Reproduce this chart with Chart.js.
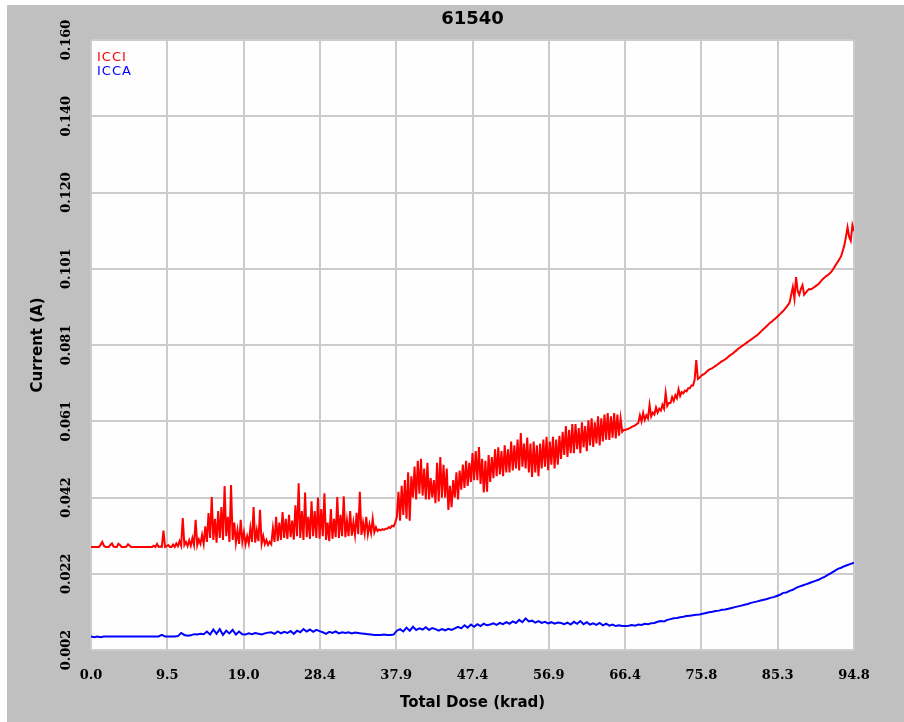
<!DOCTYPE html>
<html>
<head>
<meta charset="utf-8">
<title>61540</title>
<script src="https://cdn.jsdelivr.net/npm/chart.js@4.4.1/dist/chart.umd.min.js"></script>
<style>
  html, body { margin: 0; padding: 0; background: #ffffff; }
  #frame { position: absolute; left: 7px; top: 5px; width: 897px; height: 717px; background: #c0c0c0; }
  #frame canvas { display: block; }
</style>
</head>
<body>
<div id="frame"><canvas id="chart" width="897" height="717"></canvas></div>
<script>
// === DATA (current in mA) ===
// ICCI: one sample every 0.2 krad, one row = 2 krad
const ICCI_STEP = 0.2;
const ICCI_MA = [
    28.7, 28.7, 28.7, 28.7, 28.7, 28.7, 29.3, 30.0, 29.0, 28.7,
    28.7, 28.7, 29.2, 29.6, 28.8, 28.7, 28.7, 29.5, 29.2, 28.7,
    28.7, 28.7, 28.8, 29.4, 29.0, 28.7, 28.7, 28.7, 28.7, 28.7,
    28.7, 28.7, 28.7, 28.7, 28.7, 28.7, 28.7, 28.7, 28.7, 29.0,
    28.7, 29.5, 28.7, 28.8, 28.7, 32.9, 28.7, 28.9, 29.2, 28.7,
    28.7, 29.3, 28.7, 29.6, 28.9, 30.2, 29.0, 36.2, 29.2, 30.0,
    28.9, 30.4, 29.0, 31.0, 29.2, 35.7, 29.1, 30.6, 29.5, 31.8,
    29.5, 34.0, 30.0, 37.5, 31.0, 41.6, 30.5, 36.0, 29.8, 38.0,
    31.0, 39.0, 30.5, 44.5, 31.5, 36.5, 30.0, 44.7, 30.5, 35.0,
    29.8, 33.0, 29.5, 35.7, 30.0, 32.5, 29.4, 31.5, 29.6, 33.5,
    30.0, 39.0, 29.8, 33.0, 30.2, 38.3, 29.5, 31.5, 29.4, 30.5,
    29.2, 30.0, 29.4, 33.5, 30.0, 36.5, 30.2, 35.0, 30.5, 37.7,
    31.0, 36.0, 30.8, 37.0, 31.2, 35.5, 30.6, 39.5, 31.5, 45.2,
    31.0, 38.0, 30.5, 42.8, 31.2, 36.5, 30.8, 40.5, 31.5, 38.0,
    31.0, 41.5, 30.8, 38.5, 31.5, 42.6, 30.5, 35.0, 30.2, 38.5,
    30.8, 36.0, 31.2, 41.6, 31.0, 37.0, 31.5, 41.8, 31.2, 35.5,
    31.5, 38.0, 31.6, 35.0, 31.8, 37.5, 32.0, 43.0, 31.8, 35.0,
    32.2, 36.5, 32.0, 34.5, 32.3, 36.0, 32.5, 33.8, 32.8, 33.2,
    33.0, 33.3, 33.1, 33.4, 33.4, 33.8, 33.6, 34.2, 34.0, 35.0,
    36.5, 43.0, 35.5, 44.5, 37.0, 46.0, 36.0, 48.0, 35.5, 47.0,
    41.5, 49.5, 41.0, 51.0, 42.5, 51.5, 42.0, 49.0, 41.0, 50.5,
    41.0, 46.5, 41.5, 46.0, 40.0, 50.5, 40.5, 52.0, 41.5, 50.0,
    41.5, 49.0, 38.3, 44.5, 39.0, 46.0, 41.5, 48.0, 41.0, 48.5,
    43.5, 50.0, 44.0, 51.0, 44.5, 50.5, 45.5, 53.0, 46.0, 53.5,
    46.0, 54.6, 45.0, 51.5, 42.8, 51.0, 43.0, 52.5, 45.5, 52.0,
    46.5, 54.0, 47.0, 54.5, 47.5, 53.5, 47.0, 55.0, 48.0, 54.0,
    48.0, 56.0, 48.5, 55.0, 49.0, 56.5, 48.5, 58.2, 49.5, 55.5,
    49.0, 57.0, 48.0, 55.5, 46.8, 56.0, 48.0, 55.0, 47.0, 55.5,
    49.0, 56.5, 49.5, 57.2, 48.6, 56.0, 50.0, 57.2, 49.0, 56.5,
    50.0, 57.5, 51.5, 58.5, 52.5, 60.0, 52.0, 59.0, 53.0, 60.5,
    53.0, 60.5, 54.0, 59.5, 53.0, 61.0, 54.5, 60.0, 53.5, 61.5,
    55.0, 62.0, 54.6, 61.0, 55.5, 62.5, 55.0, 62.0, 56.0, 63.0,
    56.5, 63.4, 56.4, 62.5, 57.0, 63.4, 56.8, 63.0, 57.5, 62.0,
    58.5, 59.0, 59.0, 59.2, 59.3, 59.5, 59.8, 60.0, 60.2, 60.5,
    60.8, 62.8, 61.2, 63.4, 61.6, 62.8, 62.0, 65.5, 62.5, 63.5,
    63.0, 64.8, 63.5, 64.5, 64.0, 65.5, 64.5, 68.6, 65.2, 66.0,
    66.0, 67.5, 66.5, 68.0, 67.2, 69.5, 67.8, 68.8, 68.5, 69.2,
    69.0, 69.8, 69.8, 70.5, 70.5, 72.0, 77.1, 72.2, 72.5, 73.0,
    73.3, 73.5, 73.9, 74.3, 74.6, 74.8, 75.0, 75.3, 75.6, 75.9,
    76.2, 76.5, 76.8, 77.0, 77.3, 77.6, 78.0, 78.3, 78.6, 78.9,
    79.3, 79.6, 80.0, 80.3, 80.6, 80.9, 81.2, 81.5, 81.8, 82.1,
    82.4, 82.7, 83.0, 83.3, 83.6, 84.0, 84.4, 84.8, 85.2, 85.6,
    86.0, 86.4, 86.8, 87.1, 87.5, 87.8, 88.2, 88.6, 89.0, 89.4,
    89.8, 90.3, 90.8, 91.4, 92.0, 94.0, 96.0, 93.0, 98.6, 95.0,
    94.0, 95.5, 96.5, 94.0, 94.5, 95.0, 95.5, 95.4, 95.6, 95.9,
    96.2, 96.5, 96.8, 97.3, 97.8, 98.2, 98.6, 98.9, 99.2, 99.6,
    100.0, 100.6, 101.3, 102.0, 102.6, 103.3, 104.0, 105.4, 106.8, 109.0,
    111.5, 109.0, 108.0, 112.0, 110.5
];

// ICCA: one sample every 0.4 krad
const ICCA_STEP = 0.4;
const ICCA_MA = [
    5.5, 5.3, 5.5, 5.3, 5.5, 5.5, 5.5, 5.5, 5.5, 5.5, 5.5, 5.5, 5.5, 5.5, 5.5, 5.5, 5.5, 5.5, 5.5, 5.5, 5.5, 5.5,
    5.9, 5.5, 5.5, 5.5, 5.5, 5.6, 6.4, 5.9, 5.7, 5.8, 6.1, 6.0, 6.2, 6.1,
    6.8, 6.0, 7.3, 6.2, 7.4, 5.9, 7.0, 6.3, 7.2, 6.0, 6.8, 6.1,
    6.0, 6.3, 6.1, 6.4, 6.2, 6.0, 6.3, 6.5,
    6.6, 6.2, 6.8, 6.3, 6.7, 6.4, 6.9, 6.2,
    7.0, 6.6, 7.4, 6.8, 7.3, 6.7, 7.2, 6.9,
    6.6, 6.2, 6.7, 6.4, 6.8, 6.3, 6.6, 6.4, 6.6, 6.3, 6.5, 6.4, 6.3, 6.2, 6.1, 6.0,
    5.9, 5.9, 5.9, 6.0, 5.9, 5.9, 6.0,
    7.0, 7.4, 6.8, 7.8, 7.0, 8.0, 7.2, 7.6, 7.3, 7.9, 7.2, 7.7, 7.4,
    7.0, 7.4, 7.1, 7.5, 7.2, 7.6,
    8.0, 7.6, 8.4, 7.8, 8.6, 8.0, 8.7, 8.2, 8.8, 8.4,
    8.6, 8.9, 8.5, 9.0, 8.7, 9.2, 8.8, 9.4, 9.0, 9.8, 9.2, 10.2, 9.4, 9.6, 9.1, 9.5, 9.0, 9.3, 8.9, 9.2, 8.8, 9.1,
    9.0, 8.7, 9.1, 8.6, 9.3, 8.8, 9.5, 8.7, 9.2, 8.6, 8.9, 8.5, 9.0, 8.4, 8.8, 8.3, 8.6, 8.2, 8.4, 8.2,
    8.2, 8.3, 8.5, 8.3, 8.6, 8.5, 8.8, 8.7, 8.9,
    9.0, 9.3, 9.5, 9.4, 9.8, 10.0, 10.2,
    10.3, 10.5, 10.6, 10.8, 10.9, 11.0, 11.1,
    11.2, 11.4, 11.6, 11.8, 11.9, 12.1, 12.2, 12.4,
    12.5, 12.7, 12.9, 13.1, 13.3, 13.5, 13.7, 13.9, 14.2,
    14.4, 14.6, 14.8, 15.0, 15.2, 15.5, 15.7,
    16.0, 16.3, 16.8, 16.9, 17.3, 17.6, 18.1,
    18.4, 18.7, 19.0, 19.3, 19.6, 19.9, 20.2, 20.6,
    21.0, 21.5, 22.0, 22.5, 23.0,
    23.3, 23.7, 24.0, 24.3, 24.6
];

// === AXES ===
const X_TICKS = [0, 9.48, 18.96, 28.44, 37.92, 47.4, 56.88, 66.36, 75.84, 85.32, 94.8];
const X_TICK_LABELS = ["0.0", "9.5", "19.0", "28.4", "37.9", "47.4", "56.9", "66.4", "75.8", "85.3", "94.8"];
const Y_TICKS = [0.002, 0.02175, 0.0415, 0.06125, 0.081, 0.10075, 0.1205, 0.14025, 0.160];
const Y_TICK_LABELS = ["0.002", "0.022", "0.042", "0.061", "0.081", "0.101", "0.120", "0.140", "0.160"];

function toPoints(values, step) {
    return values.map((v, i) => ({ x: i * step, y: v / 1000 }));
}

// white plot area on the grey frame
const plotBackground = {
    id: "plotBackground",
    beforeDraw(chart) {
        const { ctx, chartArea: a } = chart;
        ctx.save();
        ctx.fillStyle = "#fefefe";
        ctx.fillRect(a.left, a.top, a.right - a.left, a.bottom - a.top);
        ctx.restore();
    }
};

// coloured series names in the top-left corner of the plot
const seriesNames = {
    id: "seriesNames",
    afterDatasetsDraw(chart) {
        const { ctx, chartArea: a } = chart;
        ctx.save();
        ctx.font = "13px 'DejaVu Sans'";
        ctx.letterSpacing = "1px";
        ctx.textBaseline = "top";
        chart.data.datasets.forEach((ds, i) => {
            ctx.fillStyle = ds.borderColor;
            ctx.fillText(ds.label, a.left + 6, a.top + 11 + i * 14);
        });
        ctx.restore();
    }
};

const tickFont = { family: "'DejaVu Serif'", size: 13, weight: "bold" };
const titleFont = { family: "'DejaVu Sans'", size: 15, weight: "bold" };

new Chart(document.getElementById("chart"), {
    type: "line",
    data: {
        datasets: [
            {
                label: "ICCI",
                data: toPoints(ICCI_MA, ICCI_STEP),
                borderColor: "#ff0000",
                borderWidth: 2,
                pointRadius: 0,
                tension: 0
            },
            {
                label: "ICCA",
                data: toPoints(ICCA_MA, ICCA_STEP),
                borderColor: "#0000ff",
                borderWidth: 2,
                pointRadius: 0,
                tension: 0
            }
        ]
    },
    options: {
        responsive: false,
        animation: false,
        layout: { padding: { right: 50 } },
        plugins: {
            legend: { display: false },
            tooltip: { enabled: false },
            title: {
                display: true,
                text: "61540",
                fullSize: false,
                color: "#000000",
                font: { family: "'DejaVu Sans'", size: 18, weight: "bold", lineHeight: 1.2 },
                padding: { top: 4, bottom: 9.4 }
            }
        },
        scales: {
            x: {
                type: "linear",
                min: 0,
                max: 94.8,
                afterFit: (s) => { s.height = 72; },
                afterBuildTicks: (s) => { s.ticks = X_TICKS.map(v => ({ value: v })); },
                grid: { color: "#cccccc", lineWidth: 2, drawTicks: false },
                border: { display: false },
                ticks: {
                    color: "#000000",
                    font: tickFont,
                    padding: 18,
                    maxRotation: 0,
                    callback: (v, i) => X_TICK_LABELS[i]
                },
                title: {
                    display: true,
                    text: "Total Dose (krad)",
                    color: "#000000",
                    font: titleFont,
                    padding: { top: 0, bottom: 10 }
                }
            },
            y: {
                min: 0.002,
                max: 0.160,
                afterFit: (s) => { s.width = 84; },
                afterBuildTicks: (s) => { s.ticks = Y_TICKS.map(v => ({ value: v })); },
                grid: { color: "#cccccc", lineWidth: 2, drawTicks: false },
                border: { display: false },
                ticks: {
                    color: "#000000",
                    font: tickFont,
                    padding: 4,
                    minRotation: 90,
                    maxRotation: 90,
                    crossAlign: "center",
                    callback: (v, i) => Y_TICK_LABELS[i]
                },
                title: {
                    display: true,
                    text: "Current (A)",
                    color: "#000000",
                    font: titleFont,
                    padding: { top: 22, bottom: 0 }
                }
            }
        }
    },
    plugins: [plotBackground, seriesNames]
});
</script>
</body>
</html>
